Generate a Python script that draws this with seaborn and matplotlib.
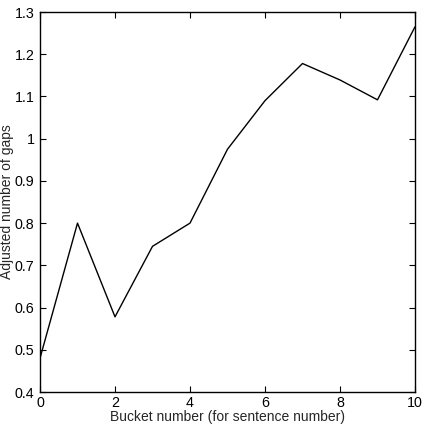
import seaborn as sns
import pandas as pd
import matplotlib.pyplot as plt

bucket = [0, 1, 2, 3, 4, 5, 6, 7, 8, 9, 10]
gaps = [0.48, 0.80, 0.578, 0.745, 0.80, 0.975, 1.09, 1.178, 1.139, 1.092, 1.265]

xticks = [0, 2, 4, 6, 8, 10]
yticks = [0.4, 0.5, 0.6, 0.7, 0.8, 0.9, 1.0, 1.1, 1.2, 1.3]
yticklabels = ['0.4', '0.5', '0.6', '0.7', '0.8', '0.9', '1', '1.1', '1.2', '1.3']

df = pd.DataFrame({'bucket': bucket, 'gaps': gaps})

sns.set_style('ticks')
plt.rcParams['font.family'] = ['Liberation Sans', 'DejaVu Sans']

fig = plt.figure(figsize=(4.22, 4.30), dpi=100)
ax = fig.add_axes([40 / 422, 1 - 392 / 430, 375 / 422, 380 / 430])

sns.lineplot(data=df, x='bucket', y='gaps', color='black', linewidth=1, ax=ax)

ax.set_xlim(0, 10)
ax.set_ylim(0.4, 1.3)
ax.set_xticks(xticks)
ax.set_yticks(yticks)
ax.set_yticklabels(yticklabels)
ax.tick_params(direction='in', top=True, right=True, length=4, width=0.8,
               labelsize=10.3, colors='black')
ax.tick_params(axis='x', pad=3)
ax.tick_params(axis='y', pad=4)
for s in ax.spines.values():
    s.set_linewidth(1)
    s.set_color('black')

ax.set_xlabel('Bucket number (for sentence number)', fontsize=10, labelpad=0)
ax.set_ylabel('Adjusted number of gaps', fontsize=10)
ax.yaxis.set_label_coords(-26 / 375, 0.5)

fig.savefig('out.png', dpi=100)
